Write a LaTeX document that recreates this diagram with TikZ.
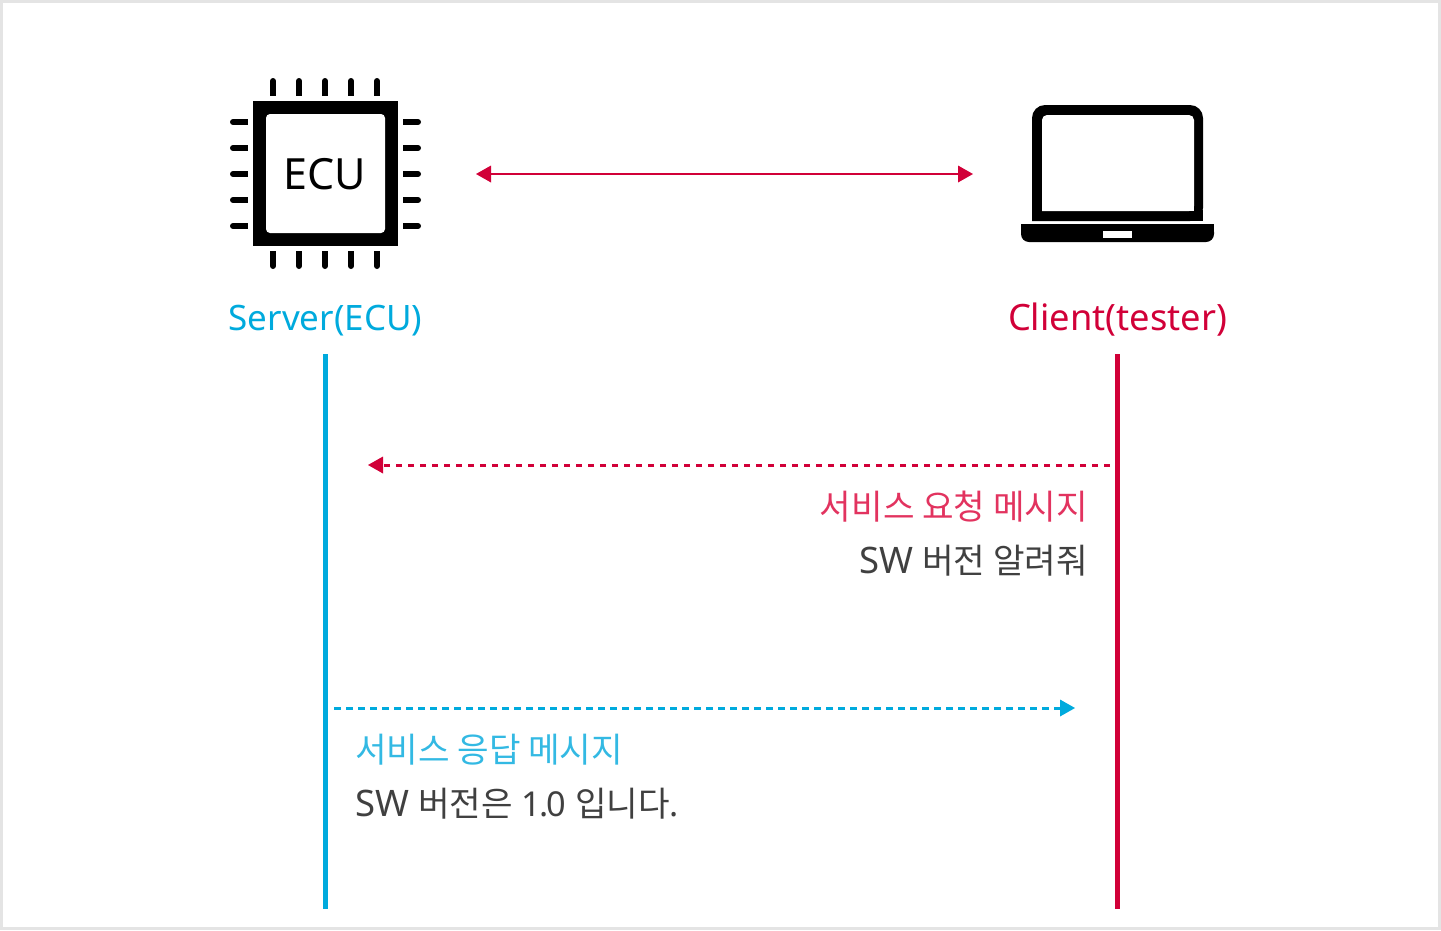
\documentclass[tikz,border=0pt]{standalone}
\usepackage{fontspec}
\setmainfont{Noto Sans}
\newfontfamily\korean{Noto Sans CJK KR}
\newcommand{\swname}{{\fontsize{36.5}{36.5}\selectfont SW}}
\definecolor{ecublue}{HTML}{00AADD}
\definecolor{testerred}{HTML}{D10038}
\definecolor{reqtext}{HTML}{E2335F}
\definecolor{restext}{HTML}{33B9E3}
\definecolor{msgtext}{HTML}{404040}
\definecolor{framegray}{HTML}{E4E4E4}

\begin{document}
\begin{tikzpicture}[x=1pt,y=1pt]
\tikzstyle{every node}+=[inner sep=0pt]
\tikzstyle{pin}=[black,line width=6pt,line cap=round]
\tikzstyle{pinfoot}=[black,line width=6pt]
\tikzstyle{lifeline}=[line width=5.5pt]
\tikzstyle{message}=[line width=3pt,dash pattern=on 6.5pt off 5.5pt]
\tikzstyle{label}=[font=\fontsize{35}{35}\selectfont,anchor=base]
\tikzstyle{msg}=[font=\fontsize{34.3}{34.3}\selectfont]
\useasboundingbox (0,-930) rectangle (1441,0);
\draw [framegray,line width=3pt] (1.5,-1.5) rectangle (1439.5,-928.5);
% chip
\fill [black] (253,-101) rectangle (398,-246);
\fill [white,rounded corners=4pt] (266,-114) rectangle (385,-233);
\node (ecu) [font=\fontsize{43}{43}\selectfont] at (325,-174.5) {ECU};
\draw [pin] (273,-81) -- (273,-92);
\draw [pin] (299,-81) -- (299,-92);
\draw [pin] (325,-81) -- (325,-92);
\draw [pin] (351,-81) -- (351,-92);
\draw [pin] (377,-81) -- (377,-92);
\draw [pinfoot] (273,-85) -- (273,-96);
\draw [pinfoot] (299,-85) -- (299,-96);
\draw [pinfoot] (325,-85) -- (325,-96);
\draw [pinfoot] (351,-85) -- (351,-96);
\draw [pinfoot] (377,-85) -- (377,-96);
\draw [pin] (273,-266) -- (273,-255);
\draw [pin] (299,-266) -- (299,-255);
\draw [pin] (325,-266) -- (325,-255);
\draw [pin] (351,-266) -- (351,-255);
\draw [pin] (377,-266) -- (377,-255);
\draw [pinfoot] (273,-262) -- (273,-251);
\draw [pinfoot] (299,-262) -- (299,-251);
\draw [pinfoot] (325,-262) -- (325,-251);
\draw [pinfoot] (351,-262) -- (351,-251);
\draw [pinfoot] (377,-262) -- (377,-251);
\draw [pin] (233,-122) -- (244,-122);
\draw [pin] (233,-148) -- (244,-148);
\draw [pin] (233,-174) -- (244,-174);
\draw [pin] (233,-200) -- (244,-200);
\draw [pin] (233,-226) -- (244,-226);
\draw [pinfoot] (237,-122) -- (248,-122);
\draw [pinfoot] (237,-148) -- (248,-148);
\draw [pinfoot] (237,-174) -- (248,-174);
\draw [pinfoot] (237,-200) -- (248,-200);
\draw [pinfoot] (237,-226) -- (248,-226);
\draw [pin] (418,-122) -- (407,-122);
\draw [pin] (418,-148) -- (407,-148);
\draw [pin] (418,-174) -- (407,-174);
\draw [pin] (418,-200) -- (407,-200);
\draw [pin] (418,-226) -- (407,-226);
\draw [pinfoot] (414,-122) -- (403,-122);
\draw [pinfoot] (414,-148) -- (403,-148);
\draw [pinfoot] (414,-174) -- (403,-174);
\draw [pinfoot] (414,-200) -- (403,-200);
\draw [pinfoot] (414,-226) -- (403,-226);
% laptop
\fill [black,rounded corners=13pt] (1032,-221) -- (1032,-105) -- (1203,-105) -- (1203,-221) [sharp corners] -- cycle;
\fill [black] (1032,-210) rectangle (1203,-221);
\fill [white,rounded corners=5pt] (1042,-211) -- (1042,-115) -- (1194,-115) -- (1194,-211) [sharp corners] -- cycle;
\fill [white] (1042,-205) rectangle (1194,-211);
\fill [black,rounded corners=8pt] (1021,-224) -- (1021,-242) -- (1214,-242) -- (1214,-224) [sharp corners] -- cycle;
\fill [black] (1021,-224) rectangle (1214,-232);
\fill [white] (1103,-231) rectangle (1132,-238);
% titles
\node (server) [label,ecublue] at (325.5,-330) {Server(ECU)};
\node (client) [label,testerred,font=\fontsize{36.3}{36.3}\selectfont] at (1117.5,-330) {Client(tester)};
% link between ecu and tester
\coordinate (linkl) at (490,-174);
\coordinate (linkr) at (959,-174);
\draw [testerred,line width=2.6pt] (linkl) -- (linkr);
\fill [testerred] (476,-174) -- (491,-165.5) -- (491,-182.5);
\fill [testerred] (973,-174) -- (958,-165.5) -- (958,-182.5);
% lifelines
\coordinate (servertop) at (325.5,-354);
\coordinate (serverend) at (325.5,-909);
\coordinate (clienttop) at (1117.5,-354);
\coordinate (clientend) at (1117.5,-909);
\draw [lifeline,ecublue] (servertop) -- (serverend);
\draw [lifeline,testerred] (clienttop) -- (clientend);
% request
\coordinate (reqfrom) at (1110,-465);
\coordinate (reqto) at (382,-465);
\draw [message,testerred] (reqfrom) -- (reqto);
\fill [testerred] (368,-465) -- (383,-456.5) -- (383,-473.5);
\node (reqtitle) [msg,reqtext,anchor=base east] at (1088,-519) {\korean 서비스 요청 메시지};
\node (reqbody) [msg,msgtext,anchor=base east] at (1088,-573) {\swname{} \korean 버전 알려줘};
% response
\coordinate (resfrom) at (334,-708);
\coordinate (resto) at (1061,-708);
\draw [message,ecublue] (resfrom) -- (resto);
\fill [ecublue] (1075,-708) -- (1060,-699.5) -- (1060,-716.5);
\node (restitle) [msg,restext,anchor=base west] at (355,-762) {\korean 서비스 응답 메시지};
\node (resbody) [msg,msgtext,anchor=base west] at (355,-816) {\swname{} {\korean 버전은} 1\kern-2pt.\kern-2pt0 {\korean 입니다}.};
\end{tikzpicture}
\end{document}
